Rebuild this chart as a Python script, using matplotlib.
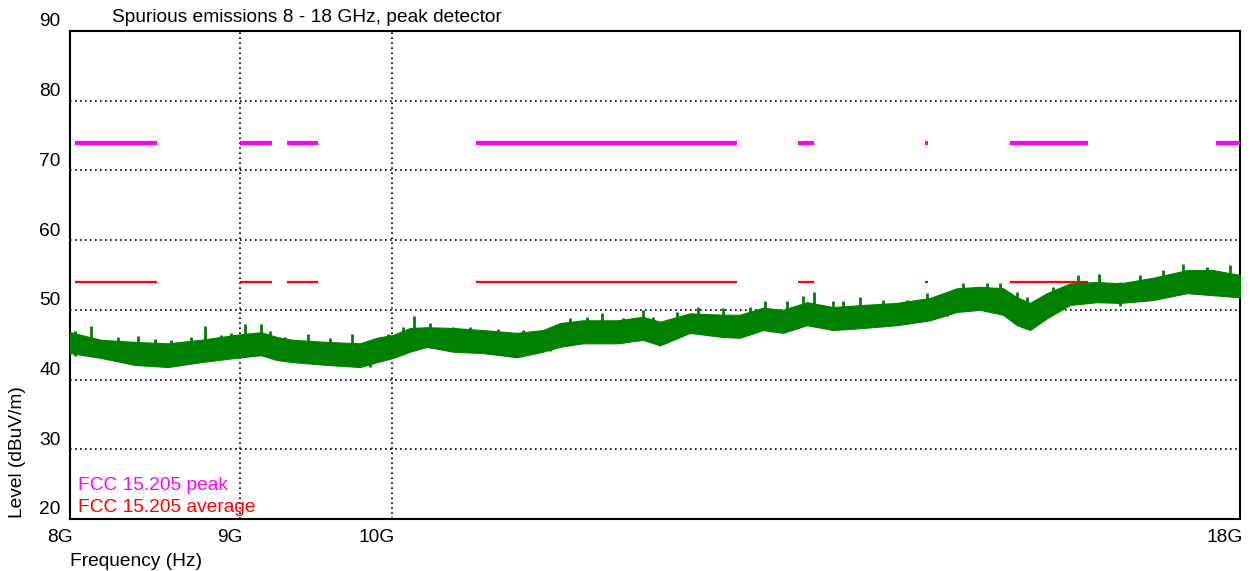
import numpy as np
import matplotlib
matplotlib.use("Agg")
import matplotlib.pyplot as plt
import matplotlib.transforms as mtransforms
from matplotlib.ticker import FixedLocator, NullLocator

plt.rcParams['font.family'] = ['Liberation Sans', 'DejaVu Sans']

# ---- data ----
title = "Spurious emissions 8 - 18 GHz, peak detector"
x_ticks = [8.0, 9.0, 10.0, 18.0]
x_tick_labels = ["8G", "9G", "10G", "18G"]
y_ticks = [20, 30, 40, 50, 60, 70, 80, 90]

# FCC 15.205 restricted bands (GHz) within 8-18 GHz
band_start = [8.025, 9.0, 9.3, 10.6, 13.25, 14.47, 15.35, 17.7]
band_stop = [8.5, 9.2, 9.5, 12.7, 13.4, 14.5, 16.2, 18.0]
peak_limit = 74.0
avg_limit = 54.0

# measured trace envelope (GHz, dBuV/m)
trace_freq = [8.000, 8.174, 8.369, 8.562, 8.760, 8.969, 9.132, 9.234, 9.337, 9.560,
              9.781, 9.897, 10.007, 10.126, 10.246, 10.432, 10.651, 10.905, 11.104,
              11.235, 11.416, 11.688, 11.901, 12.042, 12.295, 12.579, 12.728, 12.933,
              13.113, 13.333, 13.576, 13.861, 14.191, 14.520, 14.794, 15.032, 15.273,
              15.422, 15.562, 15.746, 16.000, 16.302, 16.564, 16.947, 17.352, 17.667,
              18.000]
trace_upper = [46.8, 45.7, 45.4, 45.2, 45.7, 46.4, 46.8, 46.1, 45.7, 45.4,
               45.2, 46.0, 46.4, 47.4, 47.5, 47.4, 47.1, 46.7, 47.1,
               48.1, 48.5, 48.5, 49.0, 48.3, 49.5, 49.3, 49.3, 50.3,
               50.0, 51.1, 50.4, 50.7, 51.0, 51.7, 53.1, 53.3, 53.1,
               51.8, 51.0, 52.4, 53.8, 54.0, 53.8, 54.6, 55.7, 55.7,
               55.0]
trace_lower = [43.8, 43.1, 42.1, 41.8, 42.5, 43.1, 43.5, 42.8, 42.5, 42.1,
               41.8, 42.5, 43.1, 44.0, 44.7, 44.0, 43.8, 43.2, 44.0,
               44.7, 45.2, 45.2, 45.7, 44.9, 46.7, 46.1, 46.0, 47.1,
               46.7, 47.8, 47.1, 47.4, 47.8, 48.5, 49.7, 50.0, 49.3,
               47.8, 47.1, 48.8, 50.7, 51.1, 51.0, 51.4, 52.4, 52.1,
               51.8]
# peaks rising above the trace
spike_freq = [8.026, 8.119, 8.271, 8.386, 8.484, 8.582, 8.702, 8.783, 8.885, 8.946,
              9.030, 9.134, 9.190, 9.286, 9.437, 9.580, 9.725, 9.849, 9.975, 10.079,
              10.155, 10.267, 10.434, 10.556, 10.765, 10.953, 11.158, 11.313, 11.445,
              11.565, 11.739, 11.903, 11.986, 12.182, 12.366, 12.581, 12.817, 12.951,
              13.147, 13.299, 13.398, 13.577, 13.671, 13.831, 14.056, 14.286, 14.486,
              14.688, 14.858, 15.101, 15.241, 15.419, 15.526, 15.816, 16.092, 16.319,
              16.564, 16.795, 17.068, 17.307, 17.590, 17.879]
spike_level = [46.9, 47.7, 46.1, 46.2, 45.8, 45.7, 46.1, 47.7, 46.4, 46.7,
               48.0, 48.0, 46.9, 46.1, 46.6, 45.9, 46.6, 45.3, 46.6, 47.6,
               49.1, 48.1, 47.6, 47.6, 47.3, 47.1, 47.6, 48.8, 49.0,
               49.5, 48.8, 50.0, 49.0, 49.7, 50.4, 50.2, 50.4, 51.2,
               51.2, 52.0, 52.5, 51.2, 51.2, 51.9, 51.4, 51.4, 52.4,
               52.6, 53.8, 53.8, 53.8, 52.6, 51.9, 53.3, 55.0, 55.1,
               54.0, 55.0, 55.7, 56.6, 56.2, 56.4]

# ---- figure ----
W, H = 1256, 571
fig = plt.figure(figsize=(W / 100, H / 100), dpi=100)
ax = fig.add_axes([70 / W, 1 - 519 / H, (1240 - 70) / W, (519 - 31) / H])

ax.set_xscale('log')
ax.set_xlim(8.0, 18.0)
ax.set_ylim(20, 90)

# grid
grid_kw = dict(color='black', lw=1.2, linestyle=(0, (1, 2)), zorder=1)
for yv in y_ticks[1:-1]:
    ax.axhline(yv, **grid_kw)
for xv in x_ticks[1:3]:
    ax.axvline(xv, **grid_kw)

# limit lines
for s, e in zip(band_start, band_stop):
    ax.plot([s, e], [peak_limit, peak_limit], color='#FF00FF', lw=3.0,
            solid_capstyle='butt', zorder=3)
    ax.plot([s, e], [avg_limit, avg_limit], color='#FF0000', lw=1.6,
            solid_capstyle='butt', zorder=3)

# trace
ax.fill_between(trace_freq, trace_lower, trace_upper, color='#008000',
                lw=0.8, edgecolor='#008000', zorder=4)
ax.vlines(spike_freq, [v - 3.5 for v in spike_level], spike_level,
          color='#008000', lw=2.0, zorder=4)

# ticks
ax.xaxis.set_major_locator(FixedLocator(x_ticks))
ax.xaxis.set_minor_locator(NullLocator())
ax.set_xticklabels(x_tick_labels)
ax.yaxis.set_major_locator(FixedLocator(y_ticks))
ax.set_yticklabels([str(v) for v in y_ticks])
FS = 13.8
ax.tick_params(axis='both', length=0, labelsize=FS)
ax.tick_params(axis='x', pad=7)
ax.tick_params(axis='y', pad=7)
for lab in ax.get_xticklabels():
    lab.set_horizontalalignment('right')
    lab.set_transform(lab.get_transform() +
                      mtransforms.ScaledTranslation(3 / 100, 0, fig.dpi_scale_trans))
for lab in ax.get_yticklabels():
    lab.set_transform(lab.get_transform() +
                      mtransforms.ScaledTranslation(0, 11 / 100, fig.dpi_scale_trans))

for sp in ax.spines.values():
    sp.set_linewidth(1.5)
    sp.set_color('black')

# texts
fig.text(112 / W, 1 - 18 / H, title, fontsize=FS, va='center', ha='left')
fig.text(70 / W, 1 - 561 / H, "Frequency (Hz)", fontsize=FS, va='center', ha='left')
fig.text(18 / W, 1 - 518 / H, "Level (dBuV/m)", fontsize=FS, rotation=90,
         va='bottom', ha='center')
fig.text(78 / W, 1 - 485 / H, "FCC 15.205 peak", fontsize=FS, color='#FF00FF',
         va='center', ha='left', zorder=10)
fig.text(78 / W, 1 - 508 / H, "FCC 15.205 average", fontsize=FS, color='#FF0000',
         va='center', ha='left', zorder=10)

fig.savefig("out.png", dpi=100)
